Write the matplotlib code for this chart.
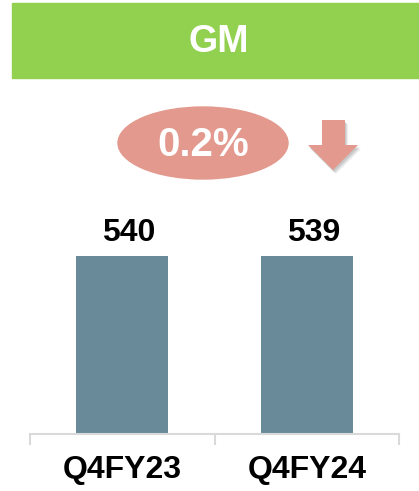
import matplotlib
matplotlib.use('Agg')
import matplotlib.pyplot as plt
from matplotlib.patches import Rectangle, Ellipse, Polygon

# data
categories = ['Q4FY23', 'Q4FY24']
values = [540, 539]
title = 'GM'
change_label = '0.2%'

W, H = 419, 491
plt.rcParams['font.family'] = ['Liberation Sans', 'DejaVu Sans']

fig = plt.figure(figsize=(W / 100, H / 100), dpi=100)


def fx(px):
    return px / W


def fy(py):
    return 1 - py / H


# green title banner
fig.patches.append(Rectangle((fx(12), fy(78)), fx(407), 75 / H,
                             transform=fig.transFigure, color='#92D050', zorder=0))
fig.text(fx(219), fy(42), title, color='white', fontsize=27, fontweight='bold',
         ha='center', va='center')

# change badge
fig.patches.append(Ellipse((fx(203), fy(143)), fx(170), 72 / H,
                           transform=fig.transFigure, color='#E3998D'))
fig.text(fx(203), fy(145), change_label, color='white', fontsize=29, fontweight='bold',
         ha='center', va='center')

# down arrow with a soft shadow
arrow = [(322, 120), (345, 120), (345, 145), (358, 145), (333, 170), (308, 145), (322, 145)]
for k, a in [(4, 0.15), (3, 0.2), (2, 0.25)]:
    shadow = [(fx(x + k - 1), fy(y + k)) for x, y in arrow]
    fig.patches.append(Polygon(shadow, closed=True, transform=fig.transFigure,
                               color='#909090', alpha=a, lw=0))
fig.patches.append(Polygon([(fx(x), fy(y)) for x, y in arrow], closed=True,
                           transform=fig.transFigure, color='#E3998D', lw=0))

# bar chart
ax = fig.add_axes([fx(30), fy(434), fx(369), 234 / H])
x = range(len(categories))
ax.bar(x, values, width=0.5, color='#688A99')
ax.set_xlim(-0.5, 1.5)
ax.set_ylim(0, 710)
for i, v in enumerate(values):
    ax.annotate(str(v), (i, v), xytext=(5, 6), textcoords='offset points',
                ha='center', va='bottom', fontsize=23, fontweight='bold')

for s in ['top', 'right', 'left']:
    ax.spines[s].set_visible(False)
ax.spines['bottom'].set_color('#D9D9D9')
ax.spines['bottom'].set_linewidth(1.5)
ax.set_yticks([])
ax.set_xticks([-0.5, 0.5, 1.5])
ax.set_xticklabels([])
ax.tick_params(axis='x', length=8, width=1.5, color='#D9D9D9')
ax.set_xticks(list(x), minor=True)
ax.set_xticklabels(categories, minor=True, fontsize=23, fontweight='bold')
ax.tick_params(axis='x', which='minor', length=0, pad=15)

fig.savefig('out.png', dpi=100)
